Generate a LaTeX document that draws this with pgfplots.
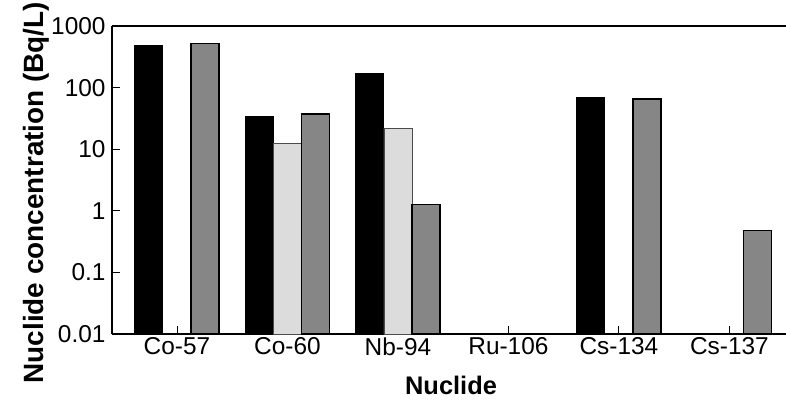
\documentclass[border=0pt]{standalone}
\usepackage{fontspec}
\setmainfont{Liberation Sans}
\usepackage{pgfplots}
\pgfplotsset{compat=1.18}
\definecolor{lightbar}{HTML}{DCDCDC}
\definecolor{darkbar}{HTML}{868686}
\begin{document}
\begin{tikzpicture}
\begin{axis}[
  at={(0,0)}, anchor=south west,
  scale only axis, width=674bp, height=308bp,
  ymode=log, log origin y=infty,
  ymin=0.01, ymax=1000,
  xmin=-0.588, xmax=5.512,
  clip=false,
  axis lines=left,
  axis line style={-, line width=1.2pt},
  tick align=inside,
  major tick length=8bp,
  tick style={black, line width=0.9pt},
  yminorticks=false,
  ytick={0.01,0.1,1,10,100,1000},
  yticklabels={0.01,0.1,1,10,100,1000},
  xtick={0,1,2,3,4,5},
  xticklabels={Co-57,Co-60,Nb-94,Ru-106,Cs-134,Cs-137},
  /pgf/number format/assume math mode=true,
  ticklabel style={font=\fontsize{24.5}{29}\selectfont},
  yticklabel style={xshift=-3bp},
  xlabel={Nuclide},
  ylabel={Nuclide concentration (Bq/L)},
  every axis x label/.style={at={(axis description cs:0.503,-0.135)}, anchor=north, inner sep=0pt, font=\fontsize{25.5}{30}\selectfont\bfseries},
  every axis y label/.style={at={(axis description cs:-0.112,0.459)}, anchor=center, rotate=90, inner sep=0pt, font=\fontsize{28}{32}\selectfont\bfseries},
]
\addplot[ybar, bar width=0.2534, bar shift=-0.2534, fill=black, draw=black, line width=1pt]
  coordinates {(0,474) (1,34) (2,171) (4,70)};
\addplot[ybar, bar width=0.2534, bar shift=0, fill=lightbar, draw=black!70, line width=0.8pt]
  coordinates {(1,12.6) (2,22)};
\addplot[ybar, bar width=0.2534, bar shift=0.2534, fill=darkbar, draw=black, line width=1.4pt]
  coordinates {(0,525) (1,37.5) (2,1.26) (4,65.7) (5,0.48)};
\draw[line width=1.2pt] (rel axis cs:0,1) -- (rel axis cs:1,1);
\end{axis}
\pgfresetboundingbox
\useasboundingbox (-112bp,-72bp) rectangle (674bp,334bp);
\end{tikzpicture}
\end{document}
